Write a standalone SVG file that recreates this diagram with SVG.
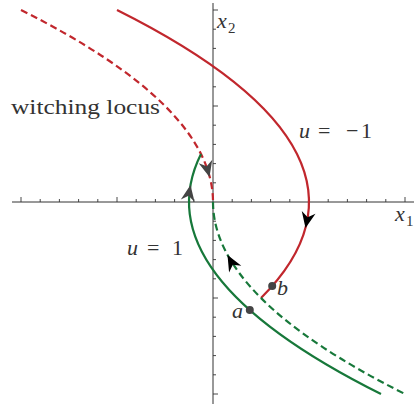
<svg xmlns="http://www.w3.org/2000/svg" width="414" height="404" viewBox="0 0 414 404">
<style>
.ax{stroke:#333;stroke-width:1;fill:none}
.tk{stroke:#333;stroke-width:0.9}
.red{stroke:#c1272d;stroke-width:2.2;fill:none}
.grn{stroke:#17783a;stroke-width:2.2;fill:none}
.dash{stroke-dasharray:7 4}
.lbl{font-size:22px;fill:#333}
.it{font-style:italic}
.sub{font-size:15px}
.dot{fill:#444}
</style>
<defs>
<path id="ah" d="M0,0 L-16,-7 L-11,0 L-16,7 Z"/>
</defs>
<rect width="414" height="404" fill="#fff"/>
<g id="axes">
<line class="ax" x1="12" y1="202" x2="414" y2="202"/>
<line class="ax" x1="213" y1="3" x2="213" y2="404"/>
<g class="tk">
<path d="M21,202v-5M40.2,202v-3M59.4,202v-3M78.6,202v-3M97.8,202v-3M117,202v-5M136.2,202v-3M155.4,202v-3M174.6,202v-3M193.8,202v-3M232.2,202v-3M251.4,202v-3M270.6,202v-3M289.8,202v-3M309,202v-5M328.2,202v-3M347.4,202v-3M366.6,202v-3M385.8,202v-3M405,202v-5"/>
<path d="M213,10h5M213,29.2h3M213,48.4h3M213,67.6h3M213,86.8h3M213,106h5M213,125.2h3M213,144.4h3M213,163.6h3M213,182.8h3M213,221.2h3M213,240.4h3M213,259.6h3M213,278.8h3M213,298h5M213,317.2h3M213,336.4h3M213,355.6h3M213,374.8h3M213,394h5"/>
</g>
</g>
<g id="connectors">
<path id="red-solid" class="red" d="M117,10 Q405,154 261,298"/>
<path id="red-dashed" class="red dash" d="M21,10 Q213,106 213,202"/>
<path id="green-dashed" class="grn dash" d="M213,202 Q213,298 405,394"/>
<path id="green-solid" class="grn" d="M381,394 Q141,274 201,154"/>
<use href="#ah" fill="#000" transform="translate(305.5,228) rotate(101.3)"/>
<use href="#ah" fill="#444" transform="translate(209.5,177) rotate(75.4)"/>
<use href="#ah" fill="#444" transform="translate(190.5,185) rotate(-80)"/>
<use href="#ah" fill="#000" transform="translate(227.5,255) rotate(-118.8)"/>
</g>
<g font-family="Liberation Serif, DejaVu Serif, serif">
<g id="point-a">
<circle class="dot" cx="249.8" cy="310" r="4"/>
<text class="lbl it" x="232" y="318">a</text>
</g>
<g id="point-b">
<circle class="dot" cx="272.2" cy="286" r="4"/>
<text class="lbl it" x="277" y="295">b</text>
</g>
<g id="labels">
<text class="lbl" x="11" y="114" textLength="149" lengthAdjust="spacingAndGlyphs">witching locus</text>
<text class="lbl it" x="299" y="138">u</text>
<text class="lbl" x="318" y="138">=</text>
<text class="lbl" x="346" y="138">−</text>
<text class="lbl" x="361" y="138">1</text>
<text class="lbl it" x="127" y="255">u</text>
<text class="lbl" x="147" y="255">=</text>
<text class="lbl" x="172" y="255">1</text>
<text class="lbl it" x="217" y="28">x</text>
<text class="lbl sub" x="228" y="33">2</text>
<text class="lbl it" x="395" y="221">x</text>
<text class="lbl sub" x="406" y="226">1</text>
</g>
</g>
</svg>
